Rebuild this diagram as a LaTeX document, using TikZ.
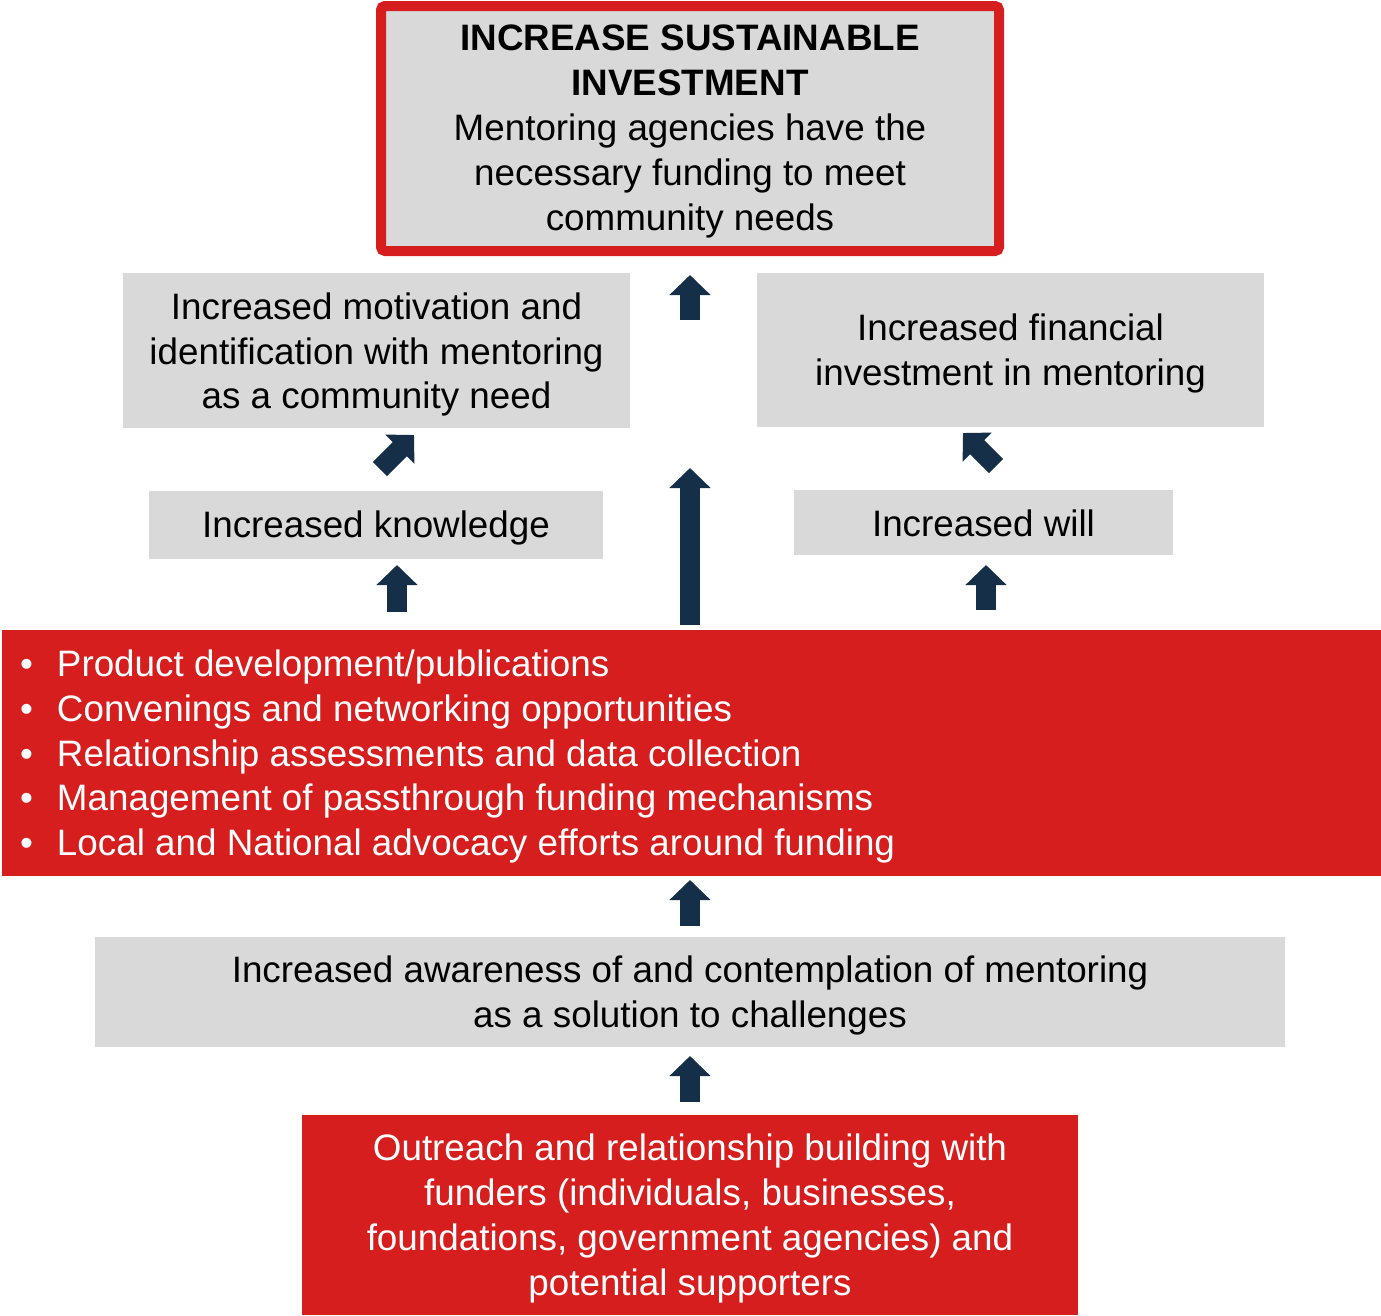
\documentclass[tikz,border=0pt]{standalone}
\usepackage{fontspec}
\setmainfont{Liberation Sans}
\usetikzlibrary{arrows.meta}
\definecolor{boxgray}{HTML}{D9D9D9}
\definecolor{boxred}{HTML}{D71E1F}
\definecolor{navy}{HTML}{152F48}
\newcommand\fsz{\fontsize{36.8}{44.8}\selectfont}
\begin{document}
\begin{tikzpicture}[x=1pt,y=-1pt,
  graybox/.style={fill=boxgray, draw=none, inner sep=0pt},
  redbox/.style={fill=boxred, draw=none, inner sep=0pt},
  darktext/.style={inner sep=0pt, align=center, font=\fsz, text=black},
  lighttext/.style={inner sep=0pt, align=center, font=\fsz, text=white},
  blockarrow/.style={draw=navy, line width=20pt, -{Triangle[length=20pt,width=40pt]}}]
\useasboundingbox (0,0) rectangle (1381,1315);
% boxes
\node[graybox, draw=boxred, line width=10pt, rounded corners=4pt, minimum width=618pt, minimum height=245pt] (top) at (690,128.5) {};
\node[darktext, yshift=-3pt] (topT) at (top.center)
  {\textbf{INCREASE SUSTAINABLE}\\\textbf{INVESTMENT}\\Mentoring agencies have the\\necessary funding to meet\\community needs};
\node[graybox, minimum width=507pt, minimum height=155pt] (mot) at (376.5,350.5) {};
\node[darktext, yshift=-4pt] (motT) at (mot.center)
  {Increased motivation and\\identification with mentoring\\as a community need};
\node[graybox, minimum width=507pt, minimum height=154pt] (fin) at (1010.5,350) {};
\node[darktext, yshift=-3.5pt] (finT) at (fin.center)
  {Increased financial\\investment in mentoring};
\node[graybox, minimum width=454pt, minimum height=68pt] (know) at (376,525) {};
\node[darktext, yshift=-3pt] (knowT) at (know.center) {Increased knowledge};
\node[graybox, minimum width=379pt, minimum height=65pt] (will) at (983.5,522.5) {};
\node[darktext, yshift=-1pt] (willT) at (will.center) {Increased will};
\node[redbox, minimum width=1379pt, minimum height=246pt] (act) at (691.5,753) {};
\node[lighttext, align=left, anchor=west, yshift=-3.5pt] (actT) at ([xshift=18pt]act.west)
  {\makebox[37pt][l]{•}Product development/publications\\
   \makebox[37pt][l]{•}Convenings and networking opportunities\\
   \makebox[37pt][l]{•}Relationship assessments and data collection\\
   \makebox[37pt][l]{•}Management of passthrough funding mechanisms\\
   \makebox[37pt][l]{•}Local and National advocacy efforts around funding};
\node[graybox, minimum width=1190pt, minimum height=110pt] (aware) at (690,992) {};
\node[darktext, yshift=-3.5pt] (awareT) at (aware.center)
  {Increased awareness of and contemplation of mentoring\\as a solution to challenges};
\node[redbox, minimum width=776pt, minimum height=200pt] (out) at (690,1215) {};
\node[lighttext, yshift=-3.5pt] (outT) at (out.center)
  {Outreach and relationship building with\\funders (individuals, businesses,\\foundations, government agencies) and\\potential supporters};
% arrow end points
\coordinate (a1s) at (690,320); \coordinate (a1e) at (690,275);
\coordinate (a2s) at (690,625); \coordinate (a2e) at (690,468);
\coordinate (a3s) at (380,469); \coordinate (a3e) at (414,435);
\coordinate (a4s) at (996,466); \coordinate (a4e) at (963,433);
\coordinate (a5s) at (397,612); \coordinate (a5e) at (397,565);
\coordinate (a6s) at (986,610); \coordinate (a6e) at (986,565);
\coordinate (a7s) at (690,926); \coordinate (a7e) at (690,880);
\coordinate (a8s) at (690,1102); \coordinate (a8e) at (690,1056);
\foreach \i in {1,...,8} {\draw[blockarrow] (a\i s) -- (a\i e);}
\end{tikzpicture}
\end{document}
